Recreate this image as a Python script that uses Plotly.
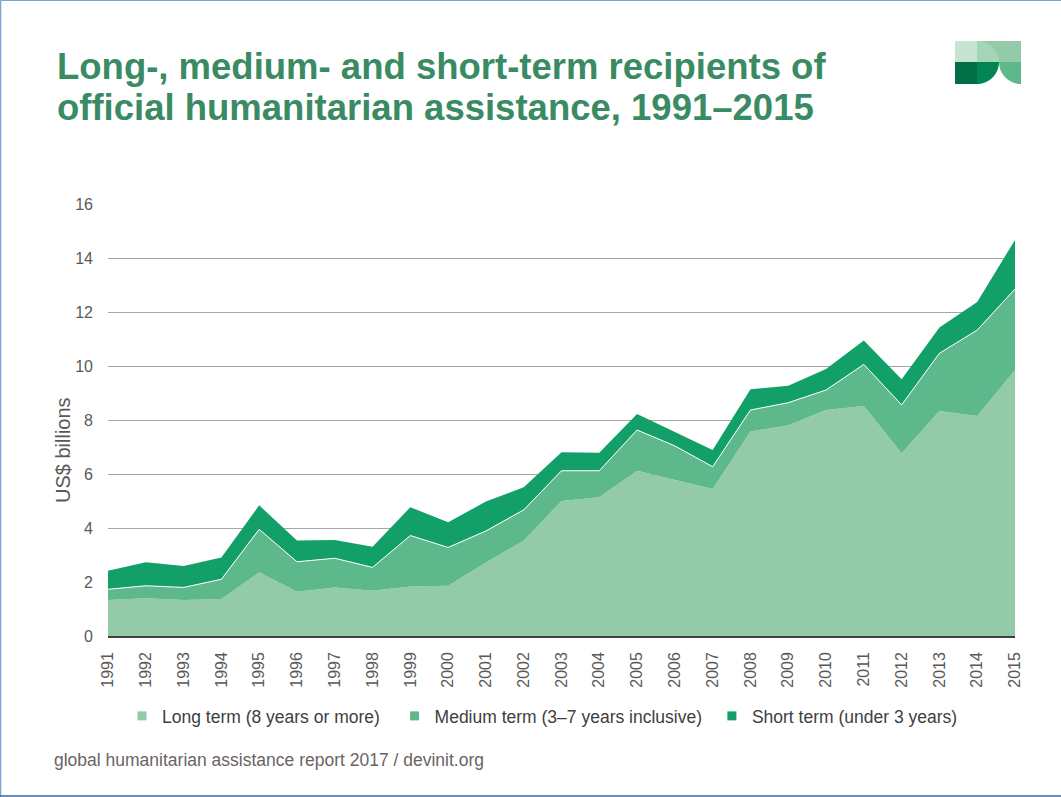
import plotly.graph_objects as go

# values (US$ billions)
YEARS = list(range(1991, 2016))
LONG_TERM = [1.33, 1.40, 1.33, 1.37, 2.36, 1.64, 1.80, 1.68, 1.83, 1.86,
             2.72, 3.53, 5.00, 5.14, 6.12, 5.78, 5.44, 7.57, 7.81, 8.37,
             8.52, 6.77, 8.33, 8.15, 9.85]
MEDIUM_TERM = [0.40, 0.46, 0.47, 0.73, 1.59, 1.11, 1.08, 0.86, 1.89, 1.42,
               1.17, 1.14, 1.12, 0.98, 1.51, 1.26, 0.83, 0.80, 0.83, 0.74,
               1.54, 1.79, 2.14, 3.18, 3.00]
SHORT_TERM = [0.69, 0.87, 0.79, 0.81, 0.89, 0.79, 0.68, 0.77, 1.05, 0.93,
              1.09, 0.84, 0.69, 0.67, 0.59, 0.52, 0.62, 0.77, 0.63, 0.78,
              0.88, 0.95, 0.96, 1.04, 1.82]
SERIES_NAMES = ["Long term (8 years or more)",
                "Medium term (3\u20137 years inclusive)",
                "Short term (under 3 years)"]
Y_TICKS = [0, 2, 4, 6, 8, 10, 12, 14, 16]

COLORS = ["#93cba8", "#5db98b", "#12a068"]
FONT = "Arial, Liberation Sans, sans-serif"

W, H = 1061, 797
PL, PR, PT, PB = 108, 46, 204, 161
PW, PH = W - PL - PR, H - PT - PB


def px(x):
    return (x - PL) / PW


def py(y):
    return (H - PB - y) / PH


def path(points, closed=True):
    """points: list of (cmd, [(x, y), ...]) in pixel space -> paper path."""
    parts = []
    for cmd, pts in points:
        parts.append(cmd + " " + " ".join(f"{px(x):.5f},{py(y):.5f}" for x, y in pts))
    return " ".join(parts) + (" Z" if closed else "")


fig = go.Figure()

line_styles = [dict(width=0), dict(width=1, color="white"), dict(width=0)]
for name, vals, color, ln in zip(SERIES_NAMES, [LONG_TERM, MEDIUM_TERM, SHORT_TERM],
                                 COLORS, line_styles):
    fig.add_trace(go.Scatter(
        x=YEARS, y=vals, name=name, mode="lines", stackgroup="one",
        fillcolor=color, line=ln, showlegend=False, hoverinfo="skip",
    ))

# legend entries as small squares (trailing nbsp widens the gap between entries)
pads = ["\u00a0" * 2, "\u00a0", ""]
for name, color, pad in zip(SERIES_NAMES, COLORS, pads):
    fig.add_trace(go.Scatter(
        x=[None], y=[None], name=name + pad, mode="markers",
        marker=dict(symbol="square", size=9, color=color),
    ))

# DI logo, built in pixel space
k = 0.5523
r = 22
logo = [
    ("rect", (955, 41, 977, 62), "#c6e4d0"),
    ("rect", (977, 41, 1021, 62), "#93cba8"),
    ("path", [("M", [(977, 62)]), ("L", [(977, 41)]),
              ("C", [(977 + k * r, 41), (999, 62 - k * 21), (999, 62)])], "#a3d5b6"),
    ("rect", (955, 62, 977, 84), "#006f46"),
    ("path", [("M", [(977, 62)]), ("L", [(999, 62)]),
              ("C", [(999, 62 + k * r), (977 + k * r, 84), (977, 84)])], "#008553"),
    ("path", [("M", [(1021, 62)]), ("L", [(999, 62)]),
              ("C", [(999, 62 + k * r), (1021 - k * r, 84), (1021, 84)])], "#5db98b"),
]
shapes = []
for kind, geom, color in logo:
    if kind == "rect":
        x0, y0, x1, y1 = geom
        shapes.append(dict(type="rect", xref="paper", yref="paper",
                           x0=px(x0), x1=px(x1), y0=py(y1), y1=py(y0),
                           fillcolor=color, line=dict(width=0), layer="above"))
    else:
        shapes.append(dict(type="path", xref="paper", yref="paper",
                           path=path(geom), fillcolor=color,
                           line=dict(width=0), layer="above"))

# slide border
shapes += [
    dict(type="line", xref="paper", yref="paper", x0=px(0), x1=px(W), y0=py(0.5), y1=py(0.5),
         line=dict(color="#7ea2d2", width=1)),
    dict(type="line", xref="paper", yref="paper", x0=px(0.5), x1=px(0.5), y0=py(0), y1=py(H),
         line=dict(color="#7ea2d2", width=1.5)),
    dict(type="line", xref="paper", yref="paper", x0=px(0), x1=px(W), y0=py(796), y1=py(796),
         line=dict(color="#3d6699", width=1.5)),
]

annotations = [
    dict(text="<b>Long-, medium- and short-term recipients of</b>", x=px(55), y=py(66),
         xanchor="left", yanchor="middle", font=dict(size=36.5, color="#3a8b63", family=FONT)),
    dict(text="<b>official humanitarian assistance, 1991\u20132015</b>", x=px(55), y=py(108),
         xanchor="left", yanchor="middle", font=dict(size=36.5, color="#3a8b63", family=FONT)),
    dict(text="US$ billions", x=px(63), y=py(450), textangle=-90,
         xanchor="center", yanchor="middle", font=dict(size=20, color="#595959", family=FONT)),
    dict(text="global humanitarian assistance report 2017 / devinit.org", x=px(52), y=py(760),
         xanchor="left", yanchor="middle", font=dict(size=17.5, color="#6b6363", family=FONT)),
]
for a in annotations:
    a.update(xref="paper", yref="paper", showarrow=False)

fig.update_layout(
    width=W, height=H,
    margin=dict(l=PL, r=PR, t=PT, b=PB, autoexpand=False),
    paper_bgcolor="white", plot_bgcolor="white",
    font=dict(family=FONT, size=16, color="#595959"),
    showlegend=True,
    legend=dict(orientation="h", traceorder="normal", x=px(122), xanchor="left",
                y=py(716), yanchor="middle",
                font=dict(size=17.5, color="#404040"), bgcolor="rgba(0,0,0,0)"),
    hovermode=False,
    shapes=shapes,
    annotations=annotations,
    xaxis=dict(range=[1991, 2015], tickvals=YEARS, ticktext=[str(y) for y in YEARS],
               tickangle=-90, showgrid=False, zeroline=False, showline=True,
               linecolor="#404040", linewidth=1.5, ticks="", ticklabelstandoff=8,
               tickfont=dict(size=16, color="#595959")),
    yaxis=dict(range=[0, 16], tickvals=Y_TICKS, showgrid=True, gridcolor="#a6a6a6",
               gridwidth=1, zeroline=False, showline=False, ticks="",
               ticklabelstandoff=14, tickfont=dict(size=16, color="#595959")),
)

fig.write_html("out.html", config={"displayModeBar": False},
               post_script="document.body.style.margin='0';")
